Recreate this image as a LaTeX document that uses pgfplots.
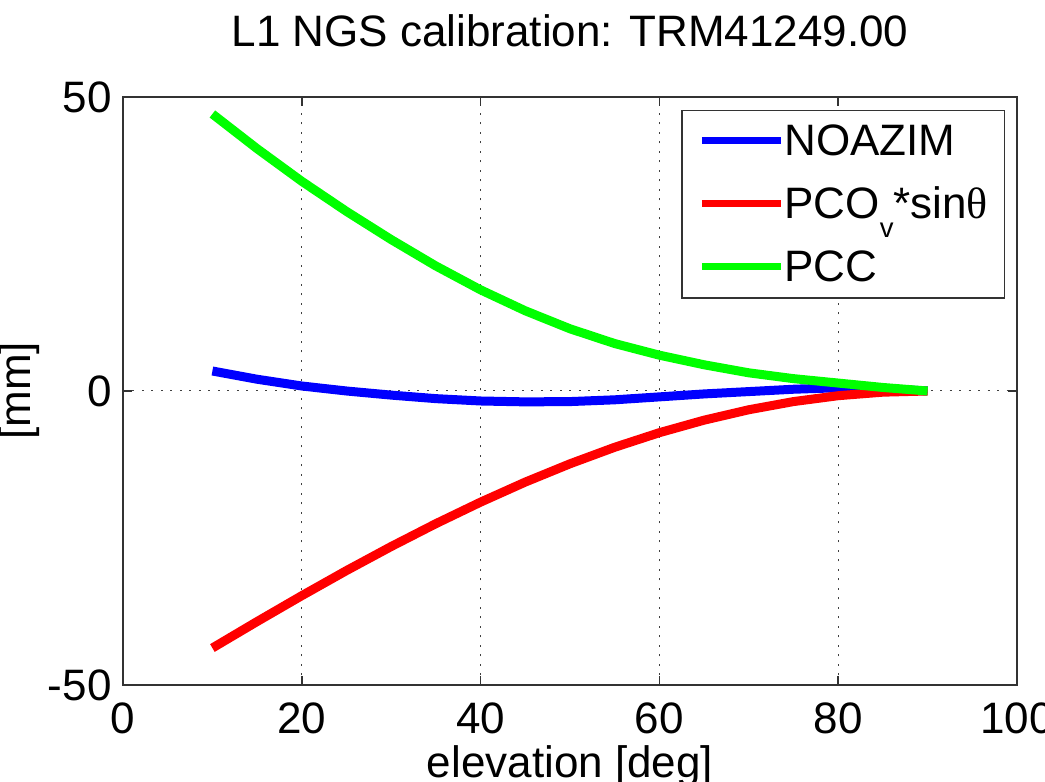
\documentclass[border=0pt]{standalone}
\usepackage{fontspec}
\setmainfont{Liberation Sans}
\newfontfamily\symf{Liberation Serif}
\usepackage{pgfplots}
\pgfplotsset{compat=1.18}
\usetikzlibrary{calc}
\newcommand{\ff}{\fontsize{17.6}{21}\selectfont}

\begin{document}
\begin{tikzpicture}
\begin{axis}[
  name=ax,
  scale only axis, width=357.6pt, height=235.2pt,
  xmin=0, xmax=100, ymin=-50, ymax=50,
  xtick={0,20,...,100}, ytick={-50,0,50},
  grid=major,
  major grid style={black!75, line width=0.4pt, dash pattern=on 0.8pt off 3pt},
  axis line style={black!80, line width=0.6pt},
  major tick length=3.6pt,
  tick style={black!80, line width=0.6pt},
  /pgf/number format/assume math mode=true,
  tick label style={font=\ff},
  xticklabel style={inner sep=0pt, yshift=-6.8pt},
  yticklabel style={inner sep=0pt, xshift=-4.4pt},
  title={L1 NGS calibration: TRM41249.00},
  title style={font=\ff, inner sep=0pt, at={(axis description cs:0.5,1.0595)}, anchor=south},
  xlabel={elevation [deg]},
  xlabel style={font=\ff, inner sep=0pt, at={(axis description cs:0.5,-0.102)}, anchor=north},
  ylabel={[mm]},
  ylabel style={font=\ff, inner sep=0pt, at={(axis description cs:-0.0928,0.5)}, anchor=south, rotate=0},
  legend style={at={(0.9866,0.978)}, anchor=north east, draw=black!80, line width=0.6pt,
    font=\ff, inner xsep=6.5pt, inner ysep=5pt, row sep=10.7pt,
    nodes={inner sep=0pt, text height=13pt}},
  legend cell align=left,
  /tikz/every even column/.append style={column sep=3.5pt},
  legend image code/.code={\draw[#1, line width=2.8pt] (0pt,0.5pt) -- (31.6pt,0.5pt);},
]
% NOAZIM
\addplot[blue, line width=3.6pt] coordinates {
(10,3.4) (15,2.0) (20,0.85) (25,0.0) (30,-0.7) (35,-1.3) (40,-1.7) (45,-1.85)
(50,-1.8) (55,-1.5) (60,-1.0) (65,-0.5) (70,-0.1) (75,0.3) (80,0.55) (85,0.4) (90,0.0)};
% PCOv*sin(theta)
\addplot[red, line width=3.6pt] coordinates {
(10,-43.71) (15,-39.21) (20,-34.81) (25,-30.54) (30,-26.45) (35,-22.56) (40,-18.90)
(45,-15.49) (50,-12.38) (55,-9.57) (60,-7.09) (65,-4.96) (70,-3.19) (75,-1.80)
(80,-0.80) (85,-0.20) (90,0.0)};
% PCC
\addplot[green, line width=3.6pt] coordinates {
(10,47.11) (15,41.21) (20,35.66) (25,30.54) (30,25.75) (35,21.26) (40,17.20)
(45,13.64) (50,10.58) (55,8.07) (60,6.09) (65,4.46) (70,3.09) (75,2.10)
(80,1.35) (85,0.60) (90,0.0)};
\legend{NOAZIM, PCO\raisebox{-7.6pt}{\fontsize{11}{12}\selectfont v}*sin{\symf θ}, PCC}
\end{axis}
\pgfresetboundingbox
\path[use as bounding box] ($(ax.south west)+(-49.2pt,-38.8pt)$) rectangle ($(ax.north east)+(11.2pt,38.8pt)$);
\end{tikzpicture}
\end{document}
